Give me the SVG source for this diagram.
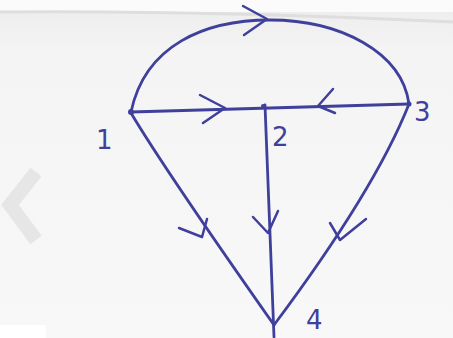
<svg xmlns="http://www.w3.org/2000/svg" width="453" height="338" viewBox="0 0 453 338">
<defs>
<linearGradient id="bg" x1="0" y1="0" x2="0" y2="1">
<stop offset="0" stop-color="#ececec"/>
<stop offset="0.15" stop-color="#f4f4f4"/>
<stop offset="1" stop-color="#f8f8f8"/>
</linearGradient>
</defs>
<style>
.e{fill:none;stroke:#3f3f9c;stroke-width:2.8;stroke-linecap:round;stroke-linejoin:round}
.a{fill:none;stroke:#3f3f9c;stroke-width:2.5;stroke-linecap:round;stroke-linejoin:round}
.l{font-family:"DejaVu Sans",sans-serif;fill:#3f3f9c;font-size:26px}
</style>
<rect width="453" height="338" fill="url(#bg)"/>
<rect x="0" y="0" width="453" height="12" fill="#fbfbfb"/>
<path d="M0,12 Q200,10 453,22" fill="none" stroke="#dedede" stroke-width="3"/>
<path d="M36,172 L10,205 L36,240" fill="none" stroke="#e6e6e6" stroke-width="14"/>
<rect x="0" y="325" width="46" height="13" fill="#ffffff"/>
<g id="connectors">
<path class="e" d="M131,112 C145,45 205,20 270,20 C340,20 402,52 409,104"/>
<path class="a" d="M243,6 L267,19 L244,35"/>
<path class="e" d="M131,112 L409,104"/>
<path class="a" d="M200,95 L225,108 L203,123"/>
<path class="a" d="M333,89 L318,106 L335,113"/>
<path class="e" d="M265,105 L274,337"/>
<path class="a" d="M253,217 L268,233 L278,211"/>
<path class="e" d="M131,113 Q165,170 274,325"/>
<path class="a" d="M179,228 L202,237 L207,219"/>
<path class="e" d="M409,104 Q375,190 274,325"/>
<path class="a" d="M330,223 L340,240 L366,219"/>
</g>
<g id="node1"><circle cx="131" cy="112" r="3" fill="#3f3f9c"/><text class="l" x="96" y="149">1</text></g>
<g id="node2"><circle cx="263" cy="106" r="2" fill="#3f3f9c"/><text class="l" x="272" y="146">2</text></g>
<g id="node3"><circle cx="409" cy="104" r="2.5" fill="#3f3f9c"/><text class="l" x="414" y="121">3</text></g>
<g id="node4"><text class="l" x="306" y="329">4</text></g>
</svg>
